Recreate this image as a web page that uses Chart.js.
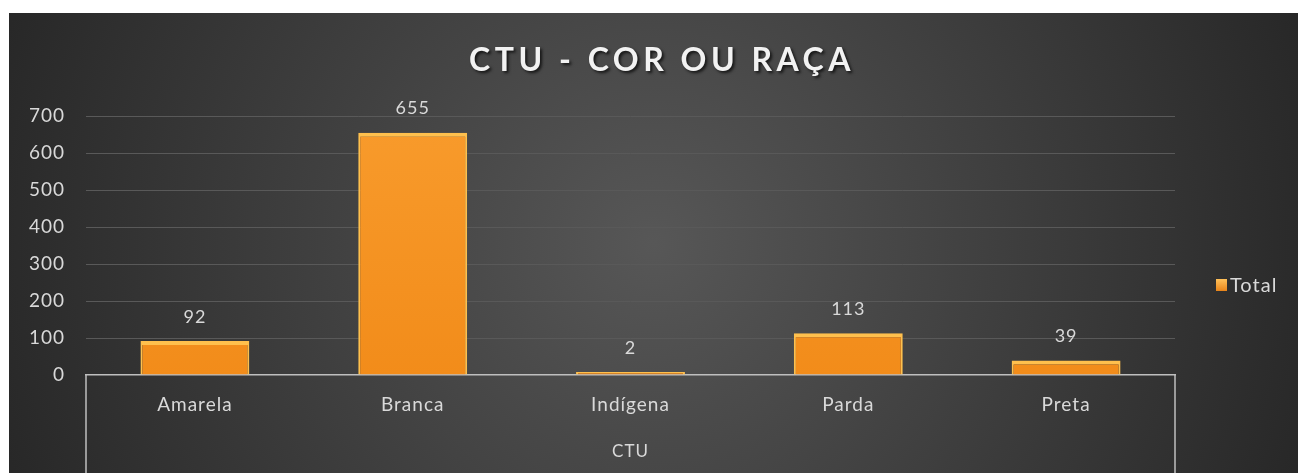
<!DOCTYPE html>
<html>
<head>
<meta charset="utf-8">
<script src="https://cdn.jsdelivr.net/npm/chart.js@4"></script>
<style>
  html, body { margin: 0; padding: 0; background: #fff; }
  #wrap { position: absolute; left: 9px; top: 13px; width: 1289px; height: 460px; }
</style>
</head>
<body>
<div id="wrap"><canvas id="chart"></canvas></div>
<script>
// data
const categories = ["Amarela", "Branca", "Indígena", "Parda", "Preta"];
const totals = [92, 655, 2, 113, 39];
const groupLabel = "CTU";
const seriesName = "Total";
const chartTitle = "CTU - COR OU RAÇA";
const yTicks = [0, 100, 200, 300, 400, 500, 600, 700];

const FONT = "Lato, 'Open Sans', sans-serif";
const LIGHT = "#d9d9d9";

// dark radial background + letter spacing for all text
const bgPlugin = {
  id: "bg",
  beforeDraw(chart) {
    const { ctx, width, height } = chart;
    const g = ctx.createRadialGradient(width / 2, height / 2, 0, width / 2, height / 2, width * 0.55);
    g.addColorStop(0, "#575757");
    g.addColorStop(1, "#262626");
    ctx.save();
    ctx.fillStyle = g;
    ctx.fillRect(0, 0, width, height);
    ctx.restore();
    ctx.letterSpacing = "1px";
  },
};

// title, value labels, group axis lines, legend
const extrasPlugin = {
  id: "extras",
  afterDatasetsDraw(chart) {
    const { ctx, chartArea, scales } = chart;
    const meta = chart.getDatasetMeta(0);
    ctx.save();

    // title
    ctx.font = "bold 32px " + FONT;
    ctx.letterSpacing = "4.5px";
    ctx.textAlign = "center";
    ctx.textBaseline = "middle";
    ctx.shadowColor = "rgba(0,0,0,0.7)";
    ctx.shadowOffsetX = 2;
    ctx.shadowOffsetY = 2;
    ctx.shadowBlur = 3;
    ctx.fillStyle = "#f2f2f2";
    ctx.fillText(chartTitle, 653, 48);
    ctx.shadowColor = "transparent";

    ctx.letterSpacing = "1px";
    ctx.fillStyle = LIGHT;
    ctx.font = "18px " + FONT;
    meta.data.forEach((bar, i) => {
      ctx.fillText(totals[i], bar.x, bar.y - 24);
    });

    // multi-level category frame
    ctx.strokeStyle = "#bfbfbf";
    ctx.lineWidth = 1.5;
    ctx.beginPath();
    ctx.moveTo(scales.x.left, chartArea.bottom);
    ctx.lineTo(scales.x.left, chart.height);
    ctx.moveTo(scales.x.right, chartArea.bottom);
    ctx.lineTo(scales.x.right, chart.height);
    ctx.stroke();

    ctx.font = "17px " + FONT;
    ctx.fillText(groupLabel, (scales.x.left + scales.x.right) / 2, 439);

    // legend
    const lx = 1207, ly = 272;
    const lg = ctx.createLinearGradient(0, ly - 6, 0, ly + 6);
    lg.addColorStop(0, "#ffc15a");
    lg.addColorStop(1, "#e8841a");
    ctx.fillStyle = lg;
    ctx.fillRect(lx, ly - 6, 11, 12);
    ctx.fillStyle = LIGHT;
    ctx.textAlign = "left";
    ctx.font = "20px " + FONT;
    ctx.fillText(seriesName, lx + 14, ly + 1);
    ctx.restore();
  },
};

function barFill(context) {
  const { ctx, chartArea } = context.chart;
  if (!chartArea) return "#f7941d";
  const g = ctx.createLinearGradient(0, chartArea.top, 0, chartArea.bottom);
  g.addColorStop(0, "#f89b2c");
  g.addColorStop(1, "#f28c1a");
  return g;
}

new Chart(document.getElementById("chart"), {
  type: "bar",
  data: {
    labels: categories,
    datasets: [
      {
        label: seriesName,
        data: totals,
        backgroundColor: barFill,
        borderColor: "#ffc04d",
        borderWidth: { top: 4, left: 2, right: 2, bottom: 0 },
        borderSkipped: "bottom",
        categoryPercentage: 1,
        barPercentage: 0.5,
        minBarLength: 3,
      },
    ],
  },
  options: {
    responsive: true,
    maintainAspectRatio: false,
    animation: false,
    layout: { padding: { left: 0, right: 123, top: 103, bottom: 0 } },
    plugins: {
      legend: { display: false },
      tooltip: { enabled: false },
      title: { display: false },
    },
    scales: {
      x: {
        grid: { display: false, drawTicks: false },
        border: { display: true, color: "#bfbfbf", width: 1.5 },
        ticks: { color: LIGHT, font: { family: FONT, size: 19 }, padding: 18 },
        afterFit(scale) { scale.height = 98; },
      },
      y: {
        min: 0,
        max: 700,
        afterBuildTicks(scale) { scale.ticks = yTicks.map((v) => ({ value: v })); },
        grid: {
          color: (c) => (c.tick && c.tick.value === 0 ? "rgba(0,0,0,0)" : "#595959"),
          drawTicks: false,
          lineWidth: 1,
        },
        border: { display: false },
        ticks: { color: LIGHT, font: { family: FONT, size: 19 }, padding: 21 },
        afterFit(scale) { scale.width = 77; },
      },
    },
  },
  plugins: [bgPlugin, extrasPlugin],
});
</script>
</body>
</html>
